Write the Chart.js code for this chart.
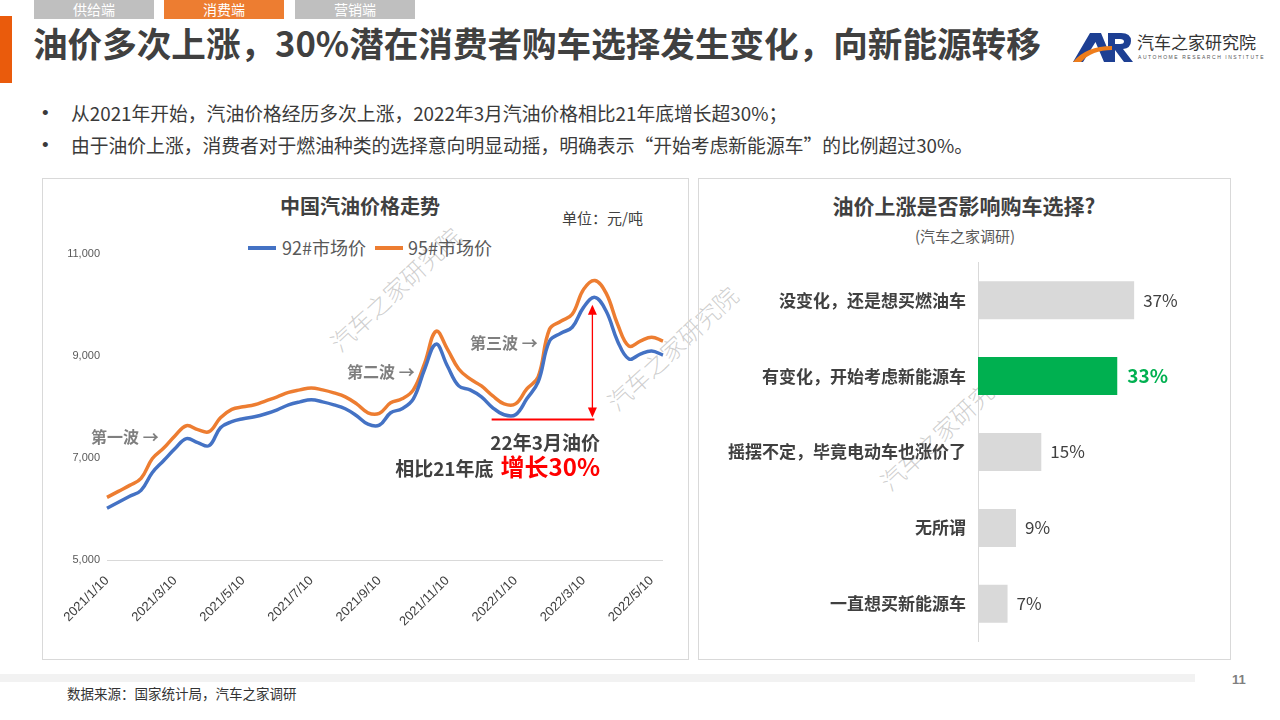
<!DOCTYPE html>
<html><head><meta charset="utf-8">
<script src="https://cdn.jsdelivr.net/npm/chart.js@4.4.1/dist/chart.umd.min.js"></script>
<style>
html,body{margin:0;padding:0;}
body{width:1280px;height:720px;position:relative;background:#fff;overflow:hidden;font-family:"Noto Sans CJK SC","Noto Sans",sans-serif;}
.a{position:absolute;white-space:nowrap;}
.tab{position:absolute;top:0;height:19px;width:120px;color:#fff;font-size:14px;line-height:19px;text-align:center;}
.panel{position:absolute;border:1px solid #d9d9d9;box-sizing:border-box;}
.wm{position:absolute;white-space:nowrap;font-size:24px;line-height:24px;color:rgba(140,140,140,0.42);font-weight:300;transform:translate(-50%,-50%) rotate(-43deg);}
.wave{position:absolute;white-space:nowrap;font-size:16px;line-height:16px;font-weight:700;color:#7f7f7f;}
.bl{position:absolute;white-space:nowrap;font-size:18.8px;line-height:19px;color:#3a3a3a;}
canvas{position:absolute;}
</style></head>
<body>
<!-- watermarks (behind charts) -->
<div class="wm" style="left:395px;top:289px;">汽车之家研究院</div>
<div class="wm" style="left:672px;top:348px;">汽车之家研究院</div>
<div class="wm" style="left:945px;top:428px;">汽车之家研究院</div>

<!-- tabs -->
<div class="tab" style="left:34px;background:#bfbfbf;">供给端</div>
<div class="tab" style="left:164px;background:#ed7d31;">消费端</div>
<div class="tab" style="left:295px;background:#bfbfbf;">营销端</div>
<div class="a" style="left:0;top:16px;width:12px;height:67px;background:#ea5b0c;"></div>

<!-- title -->
<div class="a" style="left:33px;top:25px;font-size:34.6px;line-height:35px;font-weight:700;color:#404040;">油价多次上涨，30%潜在消费者购车选择发生变化，向新能源转移</div>

<!-- logo -->
<svg class="a" style="left:0;top:0;" width="1280" height="80" viewBox="0 0 1280 80">
  <path d="M1073 62 L1090 33 L1101 33 L1113 62 L1104 62 L1095.5 42 L1083 62 Z" fill="#1d3f93"/>
  <path d="M1108 33 L1121 33 Q1131 33 1131 41 Q1131 48 1123 49 L1133 62 L1124 62 L1115 50 L1115 62 L1108 62 Z M1115 39 L1115 44 L1120 44 Q1124 44 1124 41.5 Q1124 39 1120 39 Z" fill="#1d3f93" fill-rule="evenodd"/>
  <path d="M1073 62 Q1086 46 1112 46 L1112 50 Q1092 50 1081 62 Z" fill="#ee7d1b"/>
</svg>
<div class="a" style="left:1137px;top:33px;font-size:17px;line-height:17px;color:#333;">汽车之家研究院</div>
<div class="a" style="left:1138px;top:54px;font-size:5px;line-height:6px;letter-spacing:1.55px;color:#555;font-family:'Liberation Sans',sans-serif;">AUTOHOME RESEARCH INSTITUTE</div>

<!-- bullets -->
<div class="bl" style="left:42px;top:103px;font-family:'Liberation Sans',sans-serif;">•</div>
<div class="bl" style="left:71px;top:103px;">从2021年开始，汽油价格经历多次上涨，2022年3月汽油价格相比21年底增长超30%；</div>
<div class="bl" style="left:42px;top:135px;font-family:'Liberation Sans',sans-serif;">•</div>
<div class="bl" style="left:71px;top:135px;">由于油价上涨，消费者对于燃油种类的选择意向明显动摇，明确表示“开始考虑新能源车”的比例超过30%。</div>

<!-- panels -->
<div class="panel" style="left:42px;top:178px;width:647px;height:482px;"></div>
<div class="panel" style="left:698px;top:178px;width:533px;height:482px;"></div>

<!-- left chart texts -->
<div class="a" style="left:360px;top:196px;transform:translateX(-50%);font-size:20px;line-height:20px;font-weight:700;color:#404040;">中国汽油价格走势</div>
<div class="a" style="left:562px;top:210px;font-size:15px;line-height:15px;color:#404040;">单位：元/吨</div>
<div class="a" style="left:248px;top:246px;width:28px;height:4px;background:#4472c4;"></div>
<div class="a" style="left:282px;top:238px;font-size:18px;line-height:18px;color:#595959;">92#市场价</div>
<div class="a" style="left:375px;top:246px;width:28px;height:4px;background:#ed7d31;"></div>
<div class="a" style="left:408px;top:238px;font-size:18px;line-height:18px;color:#595959;">95#市场价</div>

<canvas id="c1" width="644" height="418" style="left:43px;top:240px;"></canvas>

<div class="wave" style="left:91px;top:428px;">第一波 →</div>
<div class="wave" style="left:347px;top:363px;">第二波 →</div>
<div class="wave" style="left:470px;top:334px;">第三波 →</div>
<div class="a" style="right:680px;top:432px;font-size:19px;line-height:19px;font-weight:700;color:#404040;">22年3月油价</div>
<div class="a" style="right:680px;top:451px;font-size:24px;line-height:30px;font-weight:700;color:#ff0000;"><span style="font-size:19px;color:#404040;margin-right:7px;">相比21年底</span>增长30%</div>

<!-- right chart texts -->
<div class="a" style="left:964px;top:195px;transform:translateX(-50%);font-size:21px;line-height:21px;font-weight:700;color:#404040;">油价上涨是否影响购车选择?</div>
<div class="a" style="left:965px;top:228px;transform:translateX(-50%);font-size:15px;line-height:15px;color:#595959;">(汽车之家调研)</div>

<canvas id="c2" width="530" height="424" style="left:699px;top:240px;"></canvas>

<!-- footer -->
<div class="a" style="left:0;top:674px;width:1195px;height:8px;background:#f2f2f2;"></div>
<div class="a" style="left:1232px;top:673px;font-size:13px;line-height:14px;font-weight:700;color:#7f7f7f;font-family:'Liberation Sans',sans-serif;">11</div>
<div class="a" style="left:67px;top:686px;font-size:13.5px;line-height:14px;color:#333;">数据来源：国家统计局，汽车之家调研</div>

<script>
// ---------- data: left chart ----------
const dateLabels = [
 '2021/1/10','2021/1/20','2021/1/30','2021/2/10','2021/2/20','2021/2/28',
 '2021/3/10','2021/3/20','2021/3/30','2021/4/10','2021/4/20','2021/4/30',
 '2021/5/10','2021/5/20','2021/5/30','2021/6/10','2021/6/20','2021/6/30',
 '2021/7/10','2021/7/20','2021/7/30','2021/8/10','2021/8/20','2021/8/30',
 '2021/9/10','2021/9/20','2021/9/30','2021/10/10','2021/10/20','2021/10/30',
 '2021/11/10','2021/11/20','2021/11/30','2021/12/10','2021/12/20','2021/12/30',
 '2022/1/10','2022/1/20','2022/1/30','2022/2/10','2022/2/20','2022/2/28',
 '2022/3/10','2022/3/20','2022/3/30','2022/4/10','2022/4/20','2022/4/30',
 '2022/5/10','2022/5/20'
];
const price92 = [6013,6130,6247,6364,6714,6948,7182,7377,7299,7240,7591,7708,7766,7805,7864,7941,8039,8097,8136,8097,8039,7961,7825,7659,7640,7883,7961,8156,8740,9227,8799,8409,8331,8195,7980,7844,7844,8156,8487,9286,9441,9558,9948,10143,9870,9286,8935,9032,9091,9013];
const price95 = [6227,6344,6461,6597,6987,7192,7435,7630,7552,7513,7786,7951,8000,8039,8117,8195,8282,8331,8370,8331,8273,8195,8058,7883,7873,8078,8156,8331,8857,9480,9130,8740,8545,8409,8214,8058,8058,8351,8584,9519,9675,9812,10299,10474,10221,9617,9188,9286,9364,9286];
const seriesNames = ['92#市场价','95#市场价'];
const yTicks = [5000, 7000, 9000, 11000];
// growth annotation (data units): base line from index to index at value; arrow from value to value
const baseLineIdx = [33.9, 42.95];
const baseLineValue = 7750;
const arrowIdx = 42.78;
const arrowValues = [7790, 10000];

// ---------- data: right chart ----------
const surveyCats = ['没变化，还是想买燃油车','有变化，开始考虑新能源车','摇摆不定，毕竟电动车也涨价了','无所谓','一直想买新能源车'];
const surveyValues = [37,33,15,9,7];
const highlightIdx = 1;

Chart.defaults.font.family = "'Noto Sans CJK SC','Noto Sans',sans-serif";

const growthPlugin = {
  id: 'growth',
  afterDatasetsDraw(chart) {
    const {ctx, scales:{x, y}} = chart;
    ctx.save();
    ctx.strokeStyle = '#ff0000';
    ctx.fillStyle = '#ff0000';
    ctx.lineWidth = 2;
    const yb = y.getPixelForValue(baseLineValue);
    ctx.beginPath();
    ctx.moveTo(x.getPixelForValue(baseLineIdx[0]), yb);
    ctx.lineTo(x.getPixelForValue(baseLineIdx[1]), yb);
    ctx.stroke();
    const ax = x.getPixelForValue(arrowIdx);
    const y0 = y.getPixelForValue(arrowValues[0]);
    const y1 = y.getPixelForValue(arrowValues[1]);
    ctx.lineWidth = 1.3;
    ctx.beginPath();
    ctx.moveTo(ax, y0 - 8); ctx.lineTo(ax, y1 + 8); ctx.stroke();
    ctx.beginPath();
    ctx.moveTo(ax, y1); ctx.lineTo(ax - 4.5, y1 + 10); ctx.lineTo(ax + 4.5, y1 + 10); ctx.closePath(); ctx.fill();
    ctx.beginPath();
    ctx.moveTo(ax, y0); ctx.lineTo(ax - 4.5, y0 - 10); ctx.lineTo(ax + 4.5, y0 - 10); ctx.closePath(); ctx.fill();
    ctx.restore();
  }
};

new Chart(document.getElementById('c1'), {
  type: 'line',
  data: {
    labels: dateLabels,
    datasets: [
      {label: seriesNames[0], data: price92, borderColor: '#4472c4', borderWidth: 3.5, pointRadius: 0, tension: 0.4, fill: false},
      {label: seriesNames[1], data: price95, borderColor: '#ed7d31', borderWidth: 3.5, pointRadius: 0, tension: 0.4, fill: false}
    ]
  },
  options: {
    responsive: false, animation: false, devicePixelRatio: 1,
    layout: {padding: {top: 12, right: 17, left: 0, bottom: 0}},
    plugins: {legend: {display: false}, tooltip: {enabled: false}, title: {display: false}},
    scales: {
      x: {
        grid: {display: false, drawTicks: false},
        border: {display: true, color: '#d9d9d9', width: 1},
        ticks: {
          autoSkip: false, maxRotation: 45, minRotation: 45, padding: 13,
          color: '#404040', font: {family: "'Liberation Sans',Arial,sans-serif", size: 13},
          callback: (v, i) => (i % 6 === 0 ? dateLabels[i] : '')
        },
        afterFit: s => { s.height = 98; }
      },
      y: {
        min: 5000, max: 11000,
        afterBuildTicks: s => { s.ticks = yTicks.map(v => ({value: v})); },
        grid: {display: false, drawTicks: false},
        border: {display: false},
        ticks: {padding: 7, color: '#595959', font: {family: "'Liberation Sans',Arial,sans-serif", size: 11},
          callback: v => v.toLocaleString('en-US')},
        afterFit: s => { s.width = 64; }
      }
    }
  },
  plugins: [growthPlugin]
});

const valueLabelPlugin = {
  id: 'valueLabels',
  afterDatasetsDraw(chart) {
    const {ctx} = chart;
    const meta = chart.getDatasetMeta(0);
    ctx.save();
    ctx.textBaseline = 'middle';
    ctx.textAlign = 'left';
    meta.data.forEach((bar, i) => {
      if (i === highlightIdx) {
        ctx.font = "700 19px 'Noto Sans CJK SC', sans-serif";
        ctx.fillStyle = '#00b050';
        ctx.fillText(surveyValues[i] + '%', bar.x + 10, bar.y);
      } else {
        ctx.font = "400 17px 'Noto Sans CJK SC', sans-serif";
        ctx.fillStyle = '#404040';
        ctx.fillText(surveyValues[i] + '%', bar.x + 9, bar.y);
      }
    });
    ctx.restore();
  }
};

new Chart(document.getElementById('c2'), {
  type: 'bar',
  data: {
    labels: surveyCats,
    datasets: [{
      data: surveyValues,
      backgroundColor: surveyValues.map((v, i) => i === highlightIdx ? '#00b050' : '#d9d9d9'),
      borderWidth: 0, categoryPercentage: 1, barPercentage: 0.5
    }]
  },
  options: {
    indexAxis: 'y',
    responsive: false, animation: false, devicePixelRatio: 1,
    layout: {padding: {top: 0, right: 40, left: 0, bottom: 0}},
    plugins: {legend: {display: false}, tooltip: {enabled: false}},
    scales: {
      x: {display: false, min: 0, max: 50},
      y: {
        grid: {display: false, drawTicks: false},
        border: {display: true, color: '#d9d9d9', width: 1},
        ticks: {padding: 12, color: '#404040', font: {size: 17, weight: '700'}},
        afterFit: s => { s.width = 279; }
      }
    }
  },
  plugins: [valueLabelPlugin]
});
</script>
</body></html>
